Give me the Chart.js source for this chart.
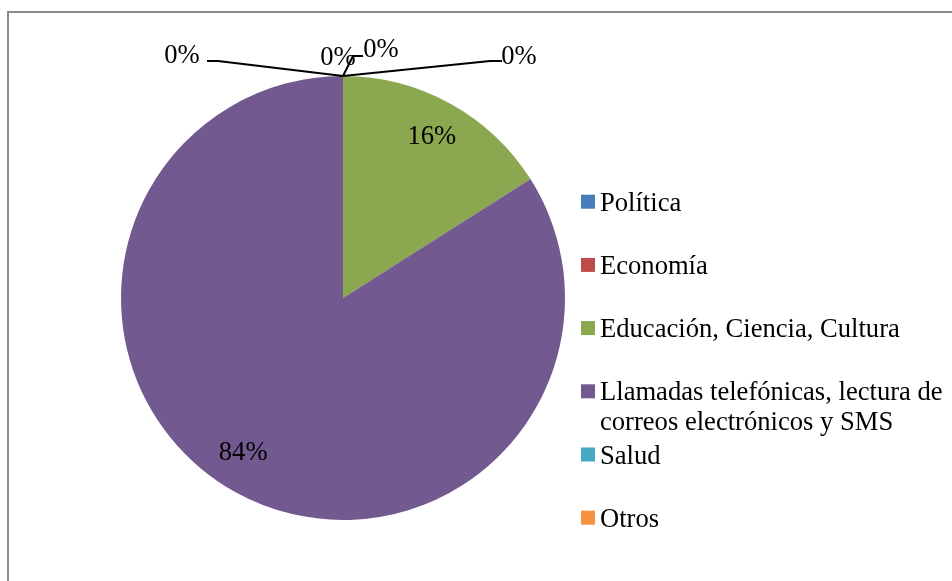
<!DOCTYPE html>
<html lang="es">
<head>
<meta charset="utf-8">
<title>Distribución de usos</title>
<script src="https://cdn.jsdelivr.net/npm/chart.js@4/dist/chart.umd.min.js"></script>
<style>
  html, body { margin: 0; padding: 0; background: #ffffff; }
  #wrap { width: 952px; height: 581px; position: relative; }
  canvas { display: block; }
</style>
</head>
<body>
<div id="wrap"><canvas id="pie" width="952" height="581"></canvas></div>
<script>
// Categorías y porcentajes del gráfico
const categories = [
  'Política',
  'Economía',
  'Educación, Ciencia, Cultura',
  'Llamadas telefónicas, lectura de correos electrónicos y SMS',
  'Salud',
  'Otros'
];
const shares = [0, 0, 16, 84, 0, 0];
const sliceColors = ['#4A7EBB', '#BE4B48', '#8BA74F', '#72598F', '#46AAC5', '#F69240'];

const FONT = '26.6px "Liberation Serif", "Times New Roman", serif';

// Etiquetas de los sectores vacíos: desplazamiento del texto y del conector
// respecto al punto del borde donde cae el sector
const zeroLabelSpots = {
  0: { text: [38, -26], leader: [[10, -20], [20, -20]] },
  1: { text: [176, -19], leader: [[147, -15], [159, -15]] },
  4: { text: [-161, -20], leader: [[-125, -15], [-136, -15]] },
  5: { text: [-5, -18], leader: null }
};

function wrapText(ctx, text, maxWidth) {
  const words = text.split(' ');
  const lines = [];
  let line = '';
  for (const w of words) {
    const test = line ? line + ' ' + w : w;
    if (ctx.measureText(test).width > maxWidth && line) {
      lines.push(line);
      line = w;
    } else {
      line = test;
    }
  }
  if (line) lines.push(line);
  return lines;
}

const decorations = {
  id: 'decorations',
  afterDraw(chart) {
    const ctx = chart.ctx;
    const meta = chart.getDatasetMeta(0);
    const values = chart.data.datasets[0].data;
    const total = values.reduce((a, b) => a + b, 0);
    const area = chart.chartArea;

    ctx.save();

    // marco del área del gráfico
    ctx.strokeStyle = '#8c8c8c';
    ctx.lineWidth = 2;
    ctx.beginPath();
    ctx.moveTo(8, chart.height);
    ctx.lineTo(8, 12);
    ctx.lineTo(chart.width, 12);
    ctx.stroke();

    // etiquetas de porcentaje
    ctx.font = FONT;
    ctx.fillStyle = '#000000';
    ctx.textAlign = 'center';
    ctx.textBaseline = 'middle';
    meta.data.forEach((arc, i) => {
      const pct = Math.round(values[i] / total * 100) + '%';
      const p = arc.getProps(['x', 'y', 'startAngle', 'endAngle', 'outerRadius'], true);
      if (values[i] > 0) {
        // el sector grande lleva su etiqueta algo girada hacia la izquierda
        const mid = (p.startAngle + p.endAngle) / 2 + (values[i] / total > 0.5 ? 0.07 : 0);
        const r = p.outerRadius * 0.83;
        ctx.fillText(pct, p.x + Math.cos(mid) * r, p.y + Math.sin(mid) * r);
      } else {
        const ax = p.x + Math.cos(p.startAngle) * p.outerRadius;
        const ay = p.y + Math.sin(p.startAngle) * p.outerRadius;
        const spot = zeroLabelSpots[i];
        if (!spot) return;
        if (spot.leader) {
          ctx.strokeStyle = '#000000';
          ctx.lineWidth = 2;
          ctx.beginPath();
          ctx.moveTo(ax, ay);
          spot.leader.forEach(([dx, dy]) => ctx.lineTo(ax + dx, ay + dy));
          ctx.stroke();
        }
        ctx.fillText(pct, ax + spot.text[0], ay + spot.text[1]);
      }
    });

    // leyenda a la derecha
    ctx.textAlign = 'left';
    ctx.textBaseline = 'alphabetic';
    const swatchX = area.right + 16;
    const textX = swatchX + 19;
    const firstBaseline = 210.7;
    const rowGap = 63.2;
    const lineGap = 30;
    const maxWidth = chart.width - textX - 3;
    categories.forEach((label, i) => {
      const base = firstBaseline + i * rowGap;
      ctx.fillStyle = sliceColors[i];
      ctx.fillRect(swatchX, base - 16, 14, 14);
      ctx.fillStyle = '#000000';
      wrapText(ctx, label, maxWidth).forEach((ln, k) => {
        ctx.fillText(ln, textX, base + k * lineGap);
      });
    });

    ctx.restore();
  }
};

new Chart(document.getElementById('pie'), {
  type: 'pie',
  data: {
    labels: categories,
    datasets: [{
      data: shares,
      backgroundColor: sliceColors,
      borderWidth: 0
    }]
  },
  options: {
    responsive: false,
    animation: false,
    devicePixelRatio: 1,
    layout: { padding: { left: 121, right: 387, top: 76, bottom: 61 } },
    plugins: {
      legend: { display: false },
      tooltip: { enabled: false }
    }
  },
  plugins: [decorations]
});
</script>
</body>
</html>
